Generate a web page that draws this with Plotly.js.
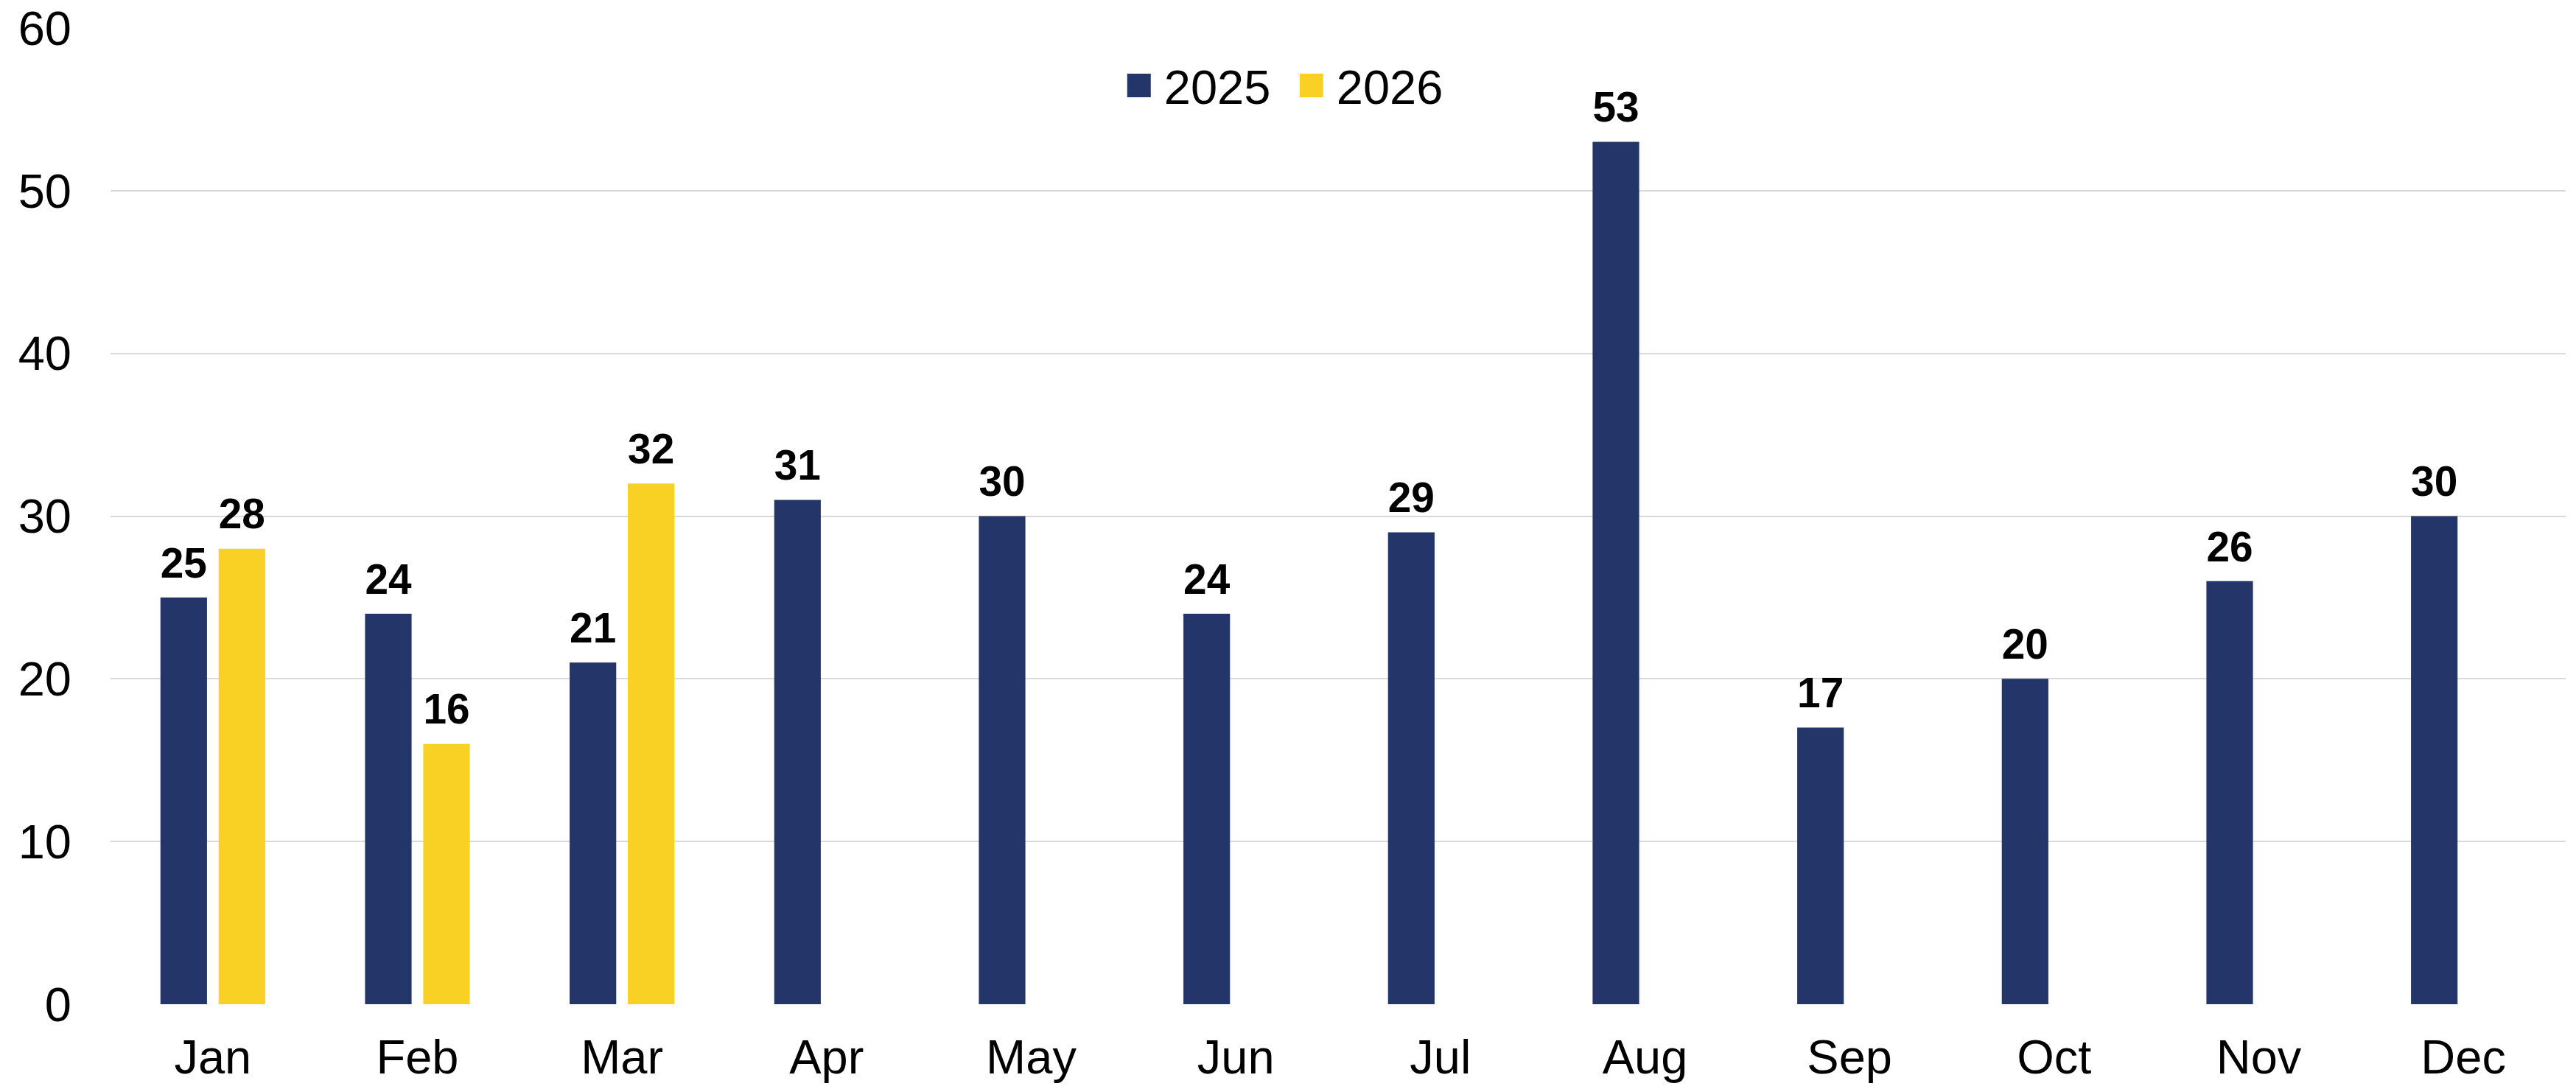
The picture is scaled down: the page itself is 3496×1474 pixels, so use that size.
<!DOCTYPE html>
<html>
<head>
<meta charset="utf-8">
<script src="https://cdn.plot.ly/plotly-3.0.1.min.js"></script>
<style>
html,body{margin:0;padding:0;background:#fff;}
#chart{width:3496px;height:1474px;}
</style>
</head>
<body>
<div id="chart"></div>
<script>
const months = ["Jan","Feb","Mar","Apr","May","Jun","Jul","Aug","Sep","Oct","Nov","Dec"];
const series2025 = [25,24,21,31,30,24,29,53,17,20,26,30];
const series2026 = [28,16,32,null,null,null,null,null,null,null,null,null];
const seriesNames = ["2025","2026"];
const yTicks = [0,10,20,30,40,50,60];

const navy = "#243569";
const yellow = "#F9D024";
const fontFam = "Liberation Sans, Arial, sans-serif";

const labelFont = {family: fontFam, size: 65, color: "#000000", weight: "bold"};

const traces = [
  {
    type: "bar", name: seriesNames[0], x: months, y: series2025,
    marker: {color: navy},
    text: series2025.map(v => v == null ? "" : String(v)),
    textposition: "outside", textfont: labelFont, cliponaxis: false,
    hoverinfo: "skip"
  },
  {
    type: "bar", name: seriesNames[1], x: months, y: series2026,
    marker: {color: yellow},
    text: series2026.map(v => v == null ? "" : String(v)),
    textposition: "outside", textfont: labelFont, cliponaxis: false,
    hoverinfo: "skip"
  }
];

const layout = {
  width: 3496, height: 1474,
  margin: {l: 150, r: 14, t: 38, b: 111, pad: 0},
  paper_bgcolor: "#ffffff", plot_bgcolor: "#ffffff",
  font: {family: fontFam, size: 65, color: "#000000"},
  barmode: "group", bargap: 0.431, bargroupgap: 0.2,
  showlegend: true,
  legend: {
    orientation: "h", x: 0.4129, xanchor: "left", y: 0.978, yanchor: "top",
    font: {family: fontFam, size: 65, color: "#000000"},
    bgcolor: "rgba(0,0,0,0)", entrywidth: 175, entrywidthmode: "pixels",
    itemwidth: 44, tracegroupgap: 0
  },
  xaxis: {
    type: "category", showgrid: false, zeroline: false, showline: false,
    ticks: "", ticklabelstandoff: 28,
    tickfont: {family: fontFam, size: 65, color: "#000000"}
  },
  yaxis: {
    range: [0, 60], tickvals: yTicks, ticktext: yTicks.map(String),
    showgrid: true, gridcolor: "#D9D9D9", gridwidth: 2,
    zeroline: false, showline: false, ticks: "", ticklabelstandoff: 52,
    tickfont: {family: fontFam, size: 65, color: "#000000"}
  }
};

function fixLegend(gd){
  const items = gd.querySelectorAll(".legend .traces");
  items.forEach(function(item){
    const txt = item.querySelector("text.legendtext");
    const pts = item.querySelectorAll(".legendpoints path");
    if(!txt) return;
    const tx = parseFloat(txt.getAttribute("x")) || 40;
    pts.forEach(function(p){
      p.setAttribute("d", "M16,16H-16V-16H16Z");
      p.setAttribute("transform", "translate(" + (tx - 34) + ",0)");
    });
  });
  gd.querySelectorAll("text.bartext").forEach(function(t){
    if(t.getAttribute("data-lifted")) return;
    const tr = t.getAttribute("transform") || "";
    t.setAttribute("transform", "translate(0,-12) " + tr);
    t.setAttribute("data-lifted", "1");
  });
}

Plotly.newPlot("chart", traces, layout, {displayModeBar: false, staticPlot: true}).then(function(gd){
  fixLegend(gd);
  gd.on("plotly_afterplot", function(){ fixLegend(gd); });
});
</script>
</body>
</html>
